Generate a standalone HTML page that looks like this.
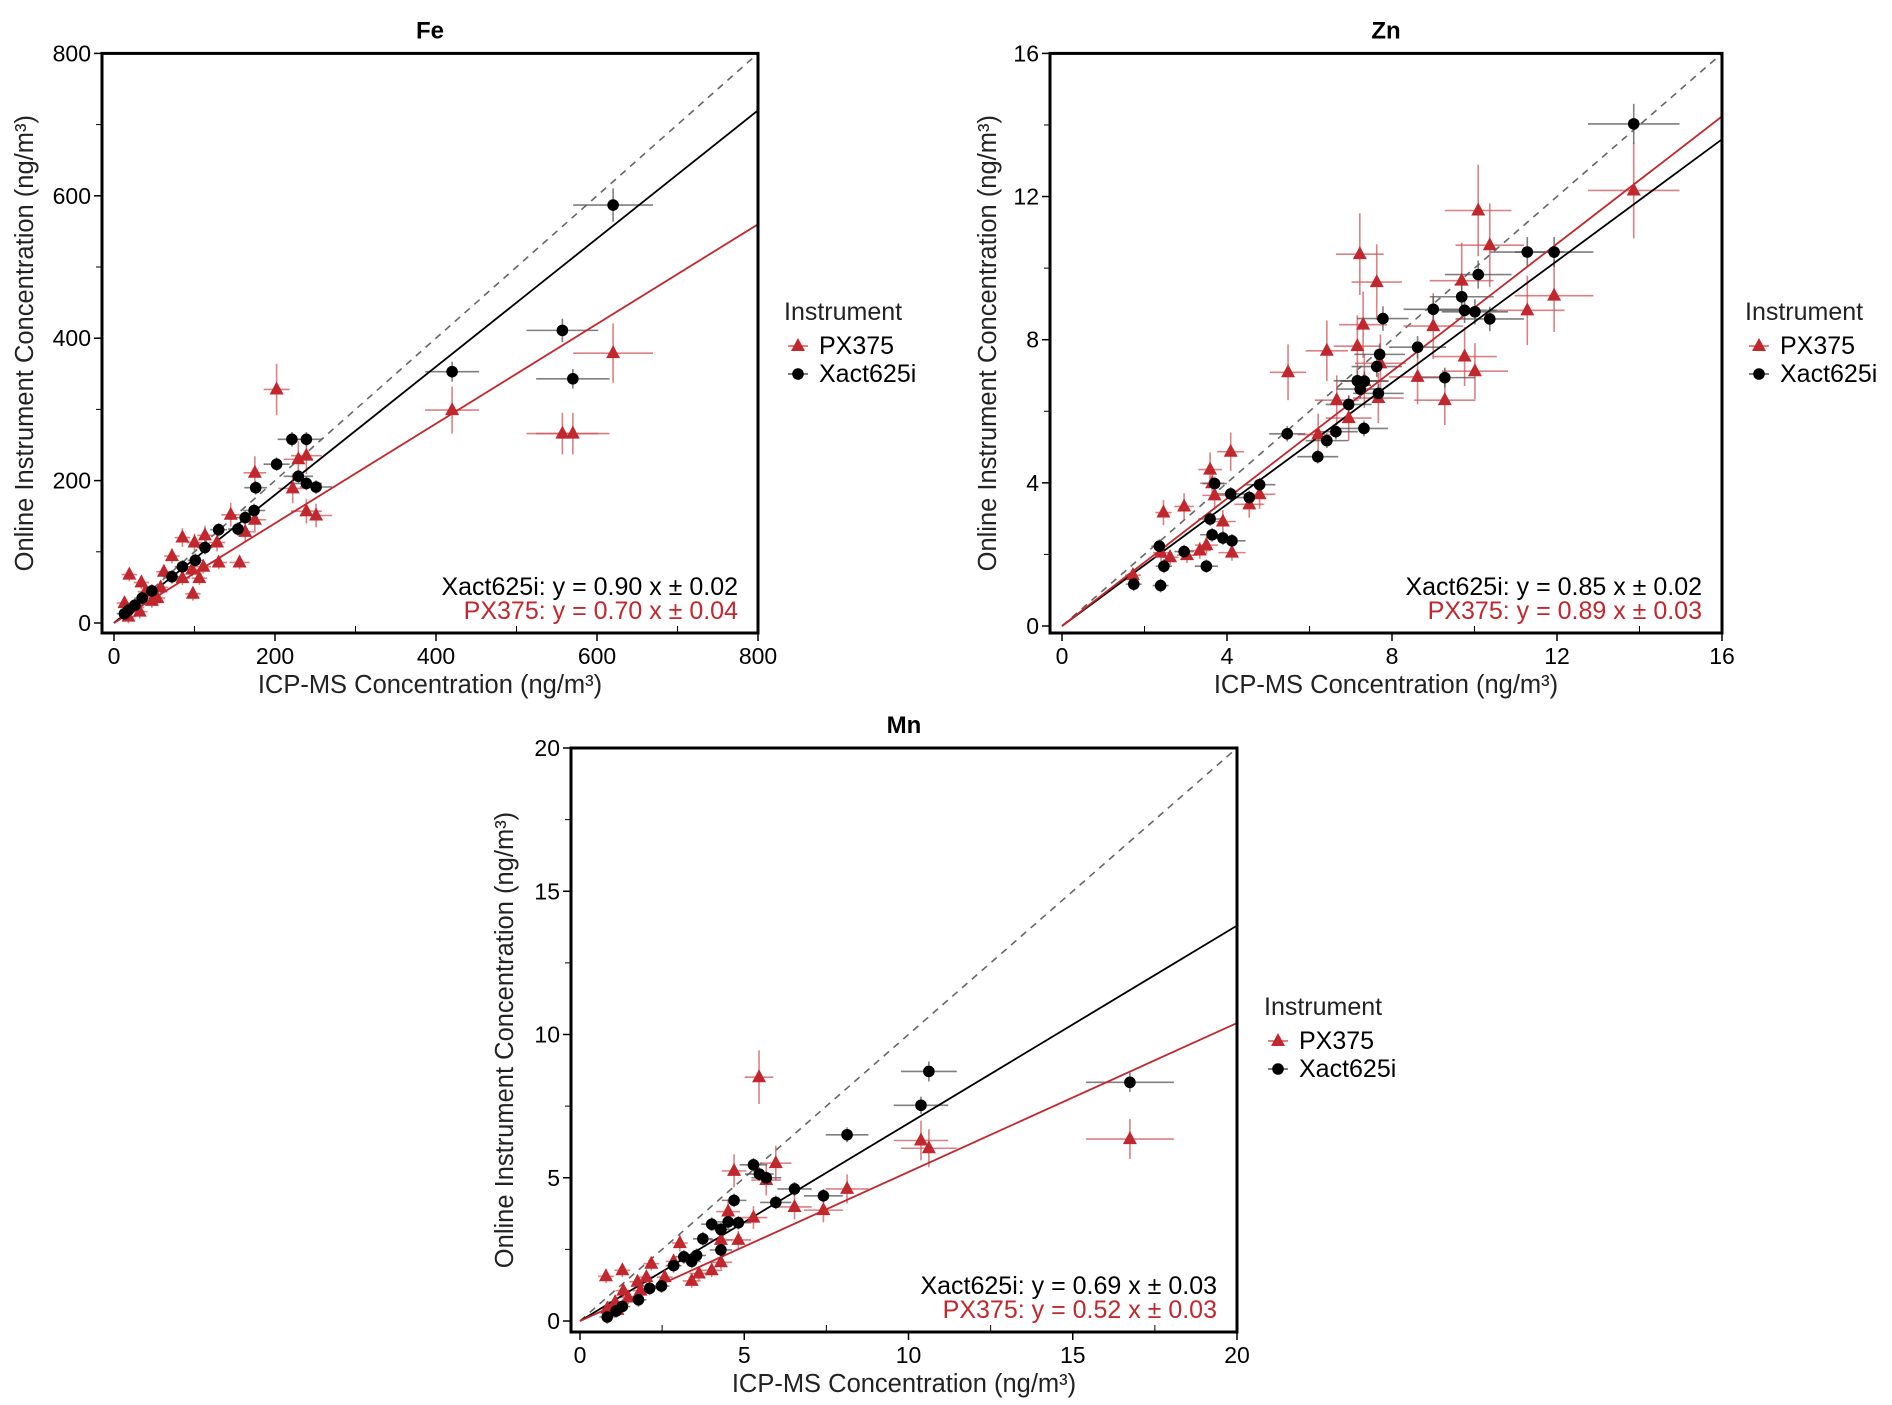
<!DOCTYPE html>
<html><head><meta charset="utf-8">
<style>
html,body{margin:0;padding:0;background:#fff;}
svg{display:block;font-family:"Liberation Sans",Arial,sans-serif;}
</style></head>
<body>
<svg id="fig" width="1892" height="1405" viewBox="0 0 1892 1405" xmlns="http://www.w3.org/2000/svg"></svg>
<script>
// ---- Data (x = ICP-MS, y = Online instrument) ----
const feXactX = [620,557,570,420,221,239,202,229,239,251,176,174,163,154,130,113,101,85,72,47,35,26,13,18];
const feXactY = [587,411,343,353,258,258,223,206,196,191,190,158,148,132,131,106,88,79,65,45,35,25,13,18];
const fePxX = [202,620,420,557,570,175,229,239,222,239,251,145,175,163,113,128,85,100,72,130,156,111,97,106,98,62,85,19,34,58,39,47,54,28,13,18,32];
const fePxY = [328,379,299,266,266,211,230,235,189,157,151,152,145,128,123,113,120,113,94,85,85,79,75,63,41,72,63,68,57,50,44,31,35,22,28,9,16];
const feSlopes = [0.90, 0.70];

const znXactX = [13.86,11.28,11.93,10.09,9.69,9.0,9.76,10.01,10.37,7.78,8.62,7.7,7.63,9.28,7.16,7.33,7.23,7.67,6.95,7.32,5.46,6.64,6.42,6.2,4.79,3.7,4.09,4.54,3.59,3.64,3.9,4.12,2.36,2.96,2.47,3.5,1.74,2.39];
const znXactY = [14.03,10.45,10.45,9.82,9.2,8.85,8.82,8.78,8.58,8.59,7.79,7.59,7.25,6.94,6.85,6.84,6.62,6.5,6.19,5.52,5.37,5.43,5.18,4.73,3.95,3.98,3.69,3.59,2.99,2.55,2.46,2.38,2.23,2.08,1.67,1.67,1.17,1.13];
const znPxX = [13.86,10.09,10.37,7.22,7.63,9.69,11.93,11.28,7.3,9.0,6.42,7.16,9.76,7.72,5.48,10.01,8.62,7.33,6.66,7.67,9.28,6.95,6.21,4.09,3.59,3.64,3.7,4.79,4.54,2.46,2.96,3.9,3.5,4.12,3.34,3.03,2.62,2.4,1.72];
const znPxY = [12.17,11.61,10.64,10.39,9.61,9.65,9.23,8.82,8.42,8.38,7.69,7.82,7.53,7.34,7.09,7.12,6.96,6.85,6.31,6.37,6.31,5.81,5.35,4.87,4.37,3.99,3.65,3.68,3.4,3.17,3.34,2.92,2.26,2.05,2.11,1.98,1.92,2.05,1.42];
const znSlopes = [0.85, 0.89];

const mnXactX = [16.74,10.62,10.38,8.13,6.53,7.41,5.96,5.28,5.46,5.67,4.69,4.82,4.01,4.29,4.51,3.74,4.29,3.55,3.4,3.16,2.85,2.48,2.12,1.78,1.29,1.1,0.83];
const mnXactY = [8.33,8.71,7.53,6.5,4.61,4.37,4.14,5.45,5.13,5.0,4.21,3.43,3.38,3.19,3.46,2.87,2.48,2.29,2.08,2.24,1.93,1.22,1.14,0.74,0.51,0.35,0.14];
const mnPxX = [5.45,10.38,10.62,16.74,8.13,7.41,6.53,5.96,5.67,4.69,4.51,5.28,4.82,4.29,4.29,4.01,3.62,3.4,3.04,2.85,2.58,2.17,1.75,2.02,1.29,0.79,1.32,1.47,1.07,0.83,1.14,1.84];
const mnPxY = [8.51,6.3,6.03,6.35,4.61,3.87,3.98,5.51,4.92,5.24,3.82,3.61,2.83,2.83,2.05,1.77,1.66,1.4,2.72,2.08,1.53,2.0,1.37,1.53,1.77,1.56,1.06,0.82,0.66,0.43,0.39,1.06];
const mnSlopes = [0.69, 0.52];

const feTicks = [0,200,400,600,800];
const znTicks = [0,4,8,12,16];
const mnTicks = [0,5,10,15,20];

const RED = '#c1272d';
const NS = 'http://www.w3.org/2000/svg';
const svg = document.getElementById('fig');

function mk(tag, attrs, parent){
  const e = document.createElementNS(NS, tag);
  for (const k in attrs) e.setAttribute(k, attrs[k]);
  (parent || svg).appendChild(e);
  return e;
}

function panel(cfg){
  const g = mk('g', {});
  
  
  const sx = v => cfg.x0 + (v / cfg.max) * (cfg.x1 - cfg.x0);
  const sy = v => cfg.y0 - (v / cfg.max) * (cfg.y0 - cfg.y1);
  const L = cfg.bl, R = cfg.br, T = cfg.bt, B = cfg.bb;

  const t = mk('text', {x:(L+R)/2, y:T-15, 'text-anchor':'middle', 'font-size':24, 'font-weight':'bold', fill:'#000'}, g);
  t.textContent = cfg.title;
  
  

  const step = cfg.ticks[1] - cfg.ticks[0];
  cfg.ticks.forEach((v, i) => {
    mk('line', {x1:sx(v), x2:sx(v), y1:B, y2:B+8, stroke:'#000', 'stroke-width':1.5}, g);
    mk('line', {x1:L, x2:L-8, y1:sy(v), y2:sy(v), stroke:'#000', 'stroke-width':1.5}, g);
    const xl = mk('text', {x:sx(v), y:B+31, 'text-anchor':'middle', 'font-size':23, fill:'#000'}, g);
    xl.textContent = v;
    
    
    const yl = mk('text', {x:L-11, y:sy(v)+8, 'text-anchor':'end', 'font-size':23, fill:'#000'}, g);
    yl.textContent = v;
    
    
    if (i < cfg.ticks.length - 1) {
      const m = v + step / 2;
      mk('line', {x1:sx(m), x2:sx(m), y1:B, y2:B-7, stroke:'#000', 'stroke-width':1}, g);
      mk('line', {x1:L, x2:L-6, y1:sy(m), y2:sy(m), stroke:'#000', 'stroke-width':1}, g);
    }
  });

  const xt = mk('text', {x:(L+R)/2, y:B+60, 'text-anchor':'middle', 'font-size':25.5, fill:'#222'}, g);
  xt.textContent = 'ICP-MS Concentration (ng/m³)';
  
  
  const yc = (T+B)/2;
  const yt = mk('text', {x:cfg.ytX, y:yc, 'text-anchor':'middle', 'font-size':25.5, fill:'#222', transform:`rotate(-90 ${cfg.ytX} ${yc})`}, g);
  yt.textContent = 'Online Instrument Concentration (ng/m³)';
  
  

  const cp = mk('clipPath', {id:'clip-' + cfg.key}, g);
  mk('rect', {x:L, y:T, width:R-L, height:B-T}, cp);
  const pg = mk('g', {'clip-path':'url(#clip-' + cfg.key + ')'}, g);

  const one = mk('line', {x1:sx(0), y1:sy(0), x2:sx(cfg.max), y2:sy(cfg.max), stroke:'#666', 'stroke-width':1.6, 'stroke-dasharray':'7,6'}, pg);
  
  

  function errs(xs, ys, col, fx, fy){
    xs.forEach((xv, i) => {
      const yv = ys[i];
      const ex = Math.max(xv * fx, cfg.max * 0.012), ey = Math.max(yv * fy, cfg.max * 0.012);
      mk('line', {x1:sx(xv-ex), x2:sx(xv+ex), y1:sy(yv), y2:sy(yv), stroke:col, 'stroke-width':1.6, opacity:0.75}, pg);
      mk('line', {x1:sx(xv), x2:sx(xv), y1:sy(yv-ey), y2:sy(yv+ey), stroke:col, 'stroke-width':1.6, opacity:0.75}, pg);
    });
  }
  errs(cfg.pxX, cfg.pxY, '#d0575b', 0.08, 0.11);
  errs(cfg.xaX, cfg.xaY, '#555', 0.08, 0.04);

  const fx = mk('line', {x1:sx(0), y1:sy(0), x2:sx(cfg.max), y2:sy(cfg.max*cfg.slopes[0]), stroke:'#000', 'stroke-width':1.8}, pg);
  
  
  const fp = mk('line', {x1:sx(0), y1:sy(0), x2:sx(cfg.max), y2:sy(cfg.max*cfg.slopes[1]), stroke:RED, 'stroke-width':1.8}, pg);
  
  

  cfg.pxX.forEach((xv, i) => {
    const cx = sx(xv), cy = sy(cfg.pxY[i]);
    const p = mk('polygon', {points:`${cx},${cy-8} ${cx-7},${cy+5} ${cx+7},${cy+5}`, fill:RED}, pg);
    
    
  });
  cfg.xaX.forEach((xv, i) => {
    const c = mk('circle', {cx:sx(xv), cy:sy(cfg.xaY[i]), r:5.8, fill:'#000'}, pg);
    
    
  });

  const box = mk('rect', {x:L, y:T, width:R-L, height:B-T, fill:'none', stroke:'#000', 'stroke-width':3}, g);
  
  

  const e1 = mk('text', {x:R-20, y:B-38, 'text-anchor':'end', 'font-size':25, fill:'#000'}, g);
  e1.textContent = 'Xact625i: y = ' + cfg.slopes[0].toFixed(2) + ' x ± ' + cfg.se[0];
  
  
  const e2 = mk('text', {x:R-20, y:B-14, 'text-anchor':'end', 'font-size':25, fill:RED}, g);
  e2.textContent = 'PX375: y = ' + cfg.slopes[1].toFixed(2) + ' x ± ' + cfg.se[1];
  
  

  const lg = mk('g', {}, g);
  
  
  const lx = cfg.legX, ly = cfg.legY;
  const lt = mk('text', {x:lx, y:ly, 'font-size':25, fill:'#222'}, lg);
  lt.textContent = 'Instrument';
  const a = lx + 14, b1 = ly + 34, b2 = ly + 62;
  mk('line', {x1:a-10, x2:a+10, y1:b1-8, y2:b1-8, stroke:'#d0575b', 'stroke-width':1.6}, lg);
  mk('polygon', {points:`${a},${b1-16} ${a-7},${b1-3} ${a+7},${b1-3}`, fill:RED}, lg);
  const l1 = mk('text', {x:lx+35, y:b1, 'font-size':25, fill:'#000'}, lg);
  l1.textContent = 'PX375';
  
  
  mk('line', {x1:a-10, x2:a+10, y1:b2-8, y2:b2-8, stroke:'#555', 'stroke-width':1.6}, lg);
  mk('circle', {cx:a, cy:b2-8, r:5.8, fill:'#000'}, lg);
  const l2 = mk('text', {x:lx+35, y:b2, 'font-size':25, fill:'#000'}, lg);
  l2.textContent = 'Xact625i';
  
  
}

panel({key:'fe', title:'Fe', max:800, ticks:feTicks, x0:114, x1:758, y0:623, y1:53.4,
  bl:102, br:758, bt:53.4, bb:633, ytX:33,
  pxX:fePxX, pxY:fePxY, xaX:feXactX, xaY:feXactY, slopes:feSlopes, se:['0.02','0.04'],
  legX:784, legY:320});
panel({key:'zn', title:'Zn', max:16, ticks:znTicks, x0:1062, x1:1722, y0:626, y1:53.4,
  bl:1050, br:1722, bt:53.4, bb:633, ytX:996,
  pxX:znPxX, pxY:znPxY, xaX:znXactX, xaY:znXactY, slopes:znSlopes, se:['0.02','0.03'],
  legX:1745, legY:320});
panel({key:'mn', title:'Mn', max:20, ticks:mnTicks, x0:580, x1:1237, y0:1321, y1:748,
  bl:571, br:1237, bt:748, bb:1332, ytX:513,
  pxX:mnPxX, pxY:mnPxY, xaX:mnXactX, xaY:mnXactY, slopes:mnSlopes, se:['0.03','0.03'],
  legX:1264, legY:1015});
</script>
</body></html>
